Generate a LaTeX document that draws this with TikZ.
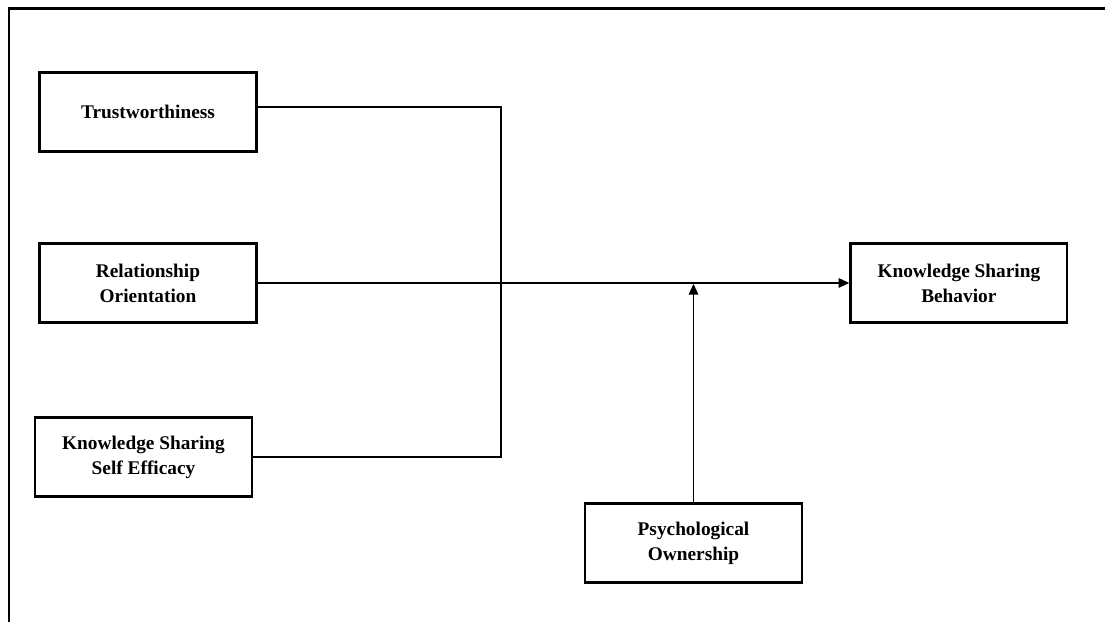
\documentclass[tikz,border=0pt]{standalone}
\usepackage{fontspec}
\setmainfont{Liberation Serif}
\usepackage{tikz}
\usetikzlibrary{arrows.meta, positioning}

\begin{document}
\begin{tikzpicture} [x=0.02cm, y=-0.02cm, node distance = 3.42cm, on grid,
        construct/.style = {draw, line width=1.3pt, minimum width=4.34cm, minimum height=1.58cm,
            align=center, font=\fontsize{11}{14.2}\selectfont\bfseries, inner sep=2pt}]
        \useasboundingbox (0,0) rectangle (1105,622);
        \draw [line width=1.5pt] (9,622) -- (9,8.5) -- (1105,8.5);

        \node (trust) [construct] at (148,112) {Trustworthiness};
        \node (relor) [construct, below = of trust] {Relationship\\Orientation};
        \node (ksse) [construct, below = 3.48cm of relor, xshift=-0.09cm] {Knowledge Sharing\\Self Efficacy};
        \node (ksb) [construct, right = 16.22cm of relor] {Knowledge Sharing\\Behavior};
        \node (psyown) [construct] at (693.5,543) {Psychological\\Ownership};

        \coordinate (spine) at (501,0);
        \coordinate (mod) at (psyown.north |- relor.east);

        \path [draw, line width=0.75pt] ([yshift=0.1cm]trust.east) -- ([yshift=0.1cm]trust.east -| spine) -- (ksse.east -| spine) -- (ksse.east);
        \path [draw, line width=0.75pt, -{Triangle[length=6pt, width=5.4pt]}] (relor) -- (ksb);
        \path [draw, line width=0.75pt, -{Triangle[length=6pt, width=5.4pt]}] (psyown) -- ([yshift=-0.02cm]mod);

    \end{tikzpicture}
\end{document}
